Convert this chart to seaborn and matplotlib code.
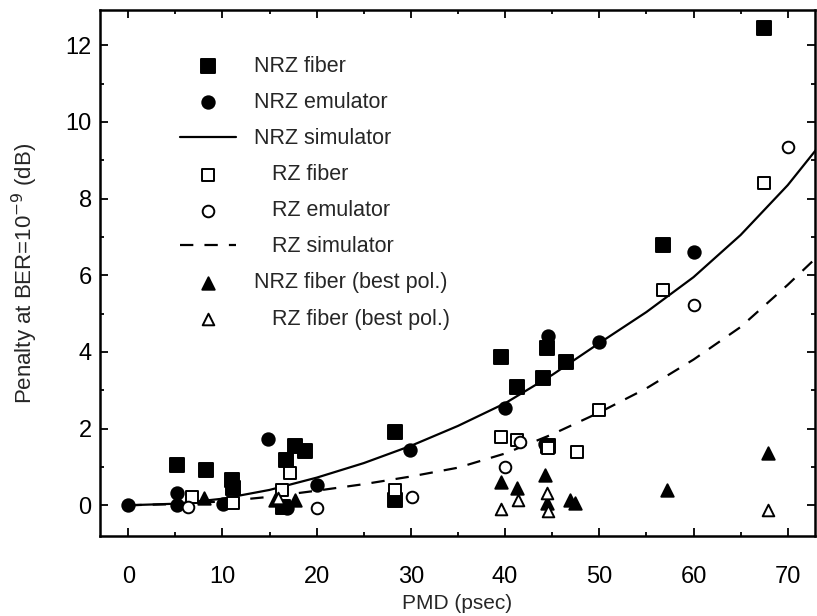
import matplotlib
matplotlib.use("Agg")
import matplotlib.pyplot as plt
import seaborn as sns
from matplotlib.ticker import MultipleLocator

# ---------------- data ----------------
nrz_fiber_x = [5.2, 8.3, 11.0, 11.1, 16.7, 17.7, 18.8, 16.4, 28.3, 28.3, 39.6, 41.3, 44.0, 44.5, 44.6, 46.5, 56.8, 67.5]
nrz_fiber_y = [1.04, 0.91, 0.65, 0.44, 1.19, 1.55, 1.42, -0.04, 1.91, 0.13, 3.86, 3.09, 3.33, 4.09, 1.54, 3.74, 6.80, 12.45]

nrz_emu_x = [0.0, 5.2, 5.2, 10.1, 14.8, 16.8, 20.0, 29.9, 40.0, 44.6, 44.2, 50.0, 60.0]
nrz_emu_y = [0.0, 0.31, 0.0, 0.03, 1.74, -0.08, 0.52, 1.44, 2.55, 4.42, 1.60, 4.25, 6.60]

rz_fiber_x = [6.8, 11.1, 16.3, 17.2, 28.3, 39.6, 41.3, 44.6, 47.6, 50.0, 56.8, 67.5]
rz_fiber_y = [0.22, 0.05, 0.40, 0.83, 0.39, 1.77, 1.71, 1.50, 1.39, 2.48, 5.62, 8.40]

rz_emu_x = [6.3, 20.0, 30.1, 40.0, 41.6, 60.1, 70.0]
rz_emu_y = [-0.05, -0.06, 0.22, 1.00, 1.65, 5.22, 9.35]

nrz_best_x = [8.0, 15.6, 17.7, 39.6, 41.3, 44.2, 44.5, 46.9, 47.4, 57.2, 67.9]
nrz_best_y = [0.18, 0.13, 0.13, 0.61, 0.44, 0.78, 0.06, 0.13, 0.06, 0.39, 1.36]

rz_best_x = [15.9, 39.6, 41.4, 44.5, 44.6, 67.9]
rz_best_y = [0.20, -0.09, 0.13, 0.32, -0.15, -0.13]

nrz_sim_x = [0, 5, 10, 15, 20, 25, 30, 35, 40, 45, 50, 55, 60, 65, 70, 73]
nrz_sim_y = [0.0, 0.04, 0.17, 0.40, 0.72, 1.10, 1.55, 2.07, 2.66, 3.40, 4.23, 5.04, 5.95, 7.05, 8.35, 9.27]

rz_sim_x = [0, 5, 10, 15, 20, 25, 30, 35, 40, 45, 50, 55, 60, 65, 70, 73]
rz_sim_y = [0.0, 0.03, 0.10, 0.22, 0.38, 0.55, 0.75, 0.98, 1.35, 1.85, 2.42, 3.05, 3.80, 4.65, 5.75, 6.45]

x_ticks = [0, 10, 20, 30, 40, 50, 60, 70]
y_ticks = [0, 2, 4, 6, 8, 10, 12]

# ---------------- style ----------------
sns.set_style("ticks")
plt.rcParams['font.family'] = ['Liberation Sans', 'DejaVu Sans']

fig = plt.figure(figsize=(8.17, 6.16), dpi=100)
ax = fig.add_axes([0.1224, 0.130, 0.8752, 0.8538])

sns.lineplot(x=nrz_sim_x, y=nrz_sim_y, ax=ax, color='black', lw=1.6,
             sort=False, estimator=None, label='NRZ simulator', zorder=2)
sns.lineplot(x=rz_sim_x, y=rz_sim_y, ax=ax, color='black', lw=1.6,
             linestyle=(0, (6, 5)), sort=False, estimator=None,
             label='   RZ simulator', zorder=2)

common = dict(ax=ax, edgecolor='black', linewidth=1.4, zorder=3)
sns.scatterplot(x=nrz_fiber_x, y=nrz_fiber_y, marker='s', s=88, color='black', label='NRZ fiber', **common)
sns.scatterplot(x=nrz_emu_x, y=nrz_emu_y, marker='o', s=80, color='black', label='NRZ emulator', **common)
sns.scatterplot(x=rz_fiber_x, y=rz_fiber_y, marker='s', s=80, color='white', label='   RZ fiber', **common)
sns.scatterplot(x=rz_emu_x, y=rz_emu_y, marker='o', s=70, color='white', label='   RZ emulator', **common)
sns.scatterplot(x=nrz_best_x, y=nrz_best_y, marker='^', s=80, color='black', label='NRZ fiber (best pol.)', **common)
sns.scatterplot(x=rz_best_x, y=rz_best_y, marker='^', s=70, color='white', label='   RZ fiber (best pol.)', **common)

ax.set_xlim(-3.0, 72.9)
ax.set_ylim(-0.8, 12.92)
ax.set_xticks(x_ticks)
ax.set_yticks(y_ticks)
ax.xaxis.set_minor_locator(MultipleLocator(5))
ax.yaxis.set_minor_locator(MultipleLocator(1))
ax.tick_params(which='both', direction='in', top=True, right=True, width=1.3, colors='black', labelsize=17)
ax.tick_params(which='major', length=6)
ax.tick_params(which='minor', length=3)
ax.tick_params(axis='x', which='both', pad=22)
ax.tick_params(axis='y', which='both', pad=6)
for sp in ax.spines.values():
    sp.set_linewidth(1.8)
    sp.set_color('black')

ax.set_xlabel('PMD (psec)', fontsize=15, labelpad=4)
ax.set_ylabel('Penalty at BER=10$^{-9}$ (dB)', fontsize=16, labelpad=18)

order = ['NRZ fiber', 'NRZ emulator', 'NRZ simulator', '   RZ fiber', '   RZ emulator',
         '   RZ simulator', 'NRZ fiber (best pol.)', '   RZ fiber (best pol.)']
h, l = ax.get_legend_handles_labels()
hd = dict(zip(l, h))
ax.legend([hd[k] for k in order], order, loc='upper left', bbox_to_anchor=(0.2098, 0.923),
          bbox_transform=fig.transFigure, frameon=False, fontsize=15.5, handlelength=2.6,
          handletextpad=0.84, labelspacing=0.70, borderaxespad=0, borderpad=0.4)

fig.savefig('out.png', dpi=100)
